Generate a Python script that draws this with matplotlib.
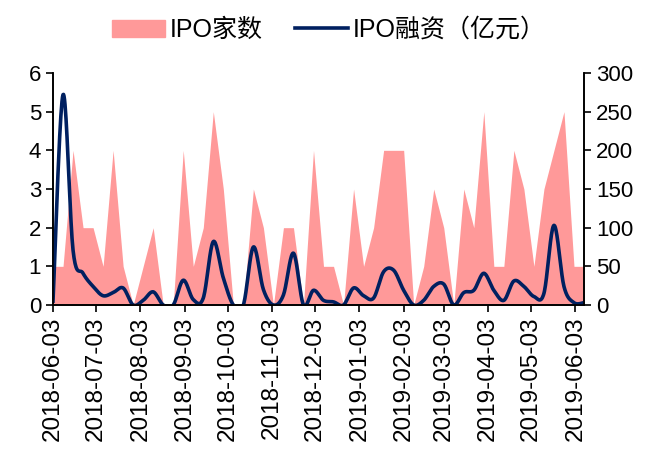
import numpy as np
import pandas as pd
import matplotlib
matplotlib.use("Agg")
import matplotlib.pyplot as plt
import matplotlib.dates as mdates
from matplotlib.patches import Patch
from matplotlib.lines import Line2D

plt.rcParams['font.family'] = ['Liberation Sans', 'Noto Sans CJK SC']

# weekly data
weeks = pd.date_range('2018-06-03', periods=54, freq='7D')
ipo_count = [1, 1, 4, 2, 2, 1, 4, 1, 0, 1, 2, 0, 0, 4, 1, 2, 5, 3,
             0, 0, 3, 2, 0, 2, 2, 0, 4, 1, 1, 0, 3, 1, 2, 4, 4, 4,
             0, 1, 3, 2, 0, 3, 2, 5, 1, 1, 4, 3, 1, 3, 4, 5, 1, 1]
ipo_money = [5, 272, 71, 41, 24, 12, 16, 22, 0, 6, 17, 0, 0, 32, 7, 9, 82, 35,
             0, 0, 75, 20, 0, 13, 67, 0, 19, 6, 4, 0, 22, 12, 9, 43, 45, 19,
             0, 6, 24, 27, 0, 16, 19, 41, 19, 6, 31, 24, 11, 15, 103, 24, 3, 3]
tick_dates = pd.date_range('2018-06-01', '2019-06-01', freq='MS') + pd.Timedelta(days=2)


def smooth(x, y, n=20):
    # catmull-rom style smoothing, like excel's smoothed line
    x = np.asarray(x, float)
    y = np.asarray(y, float)
    px = np.concatenate([[x[0]], x, [x[-1]]])
    py = np.concatenate([[y[0]], y, [y[-1]]])
    xs, ys = [], []
    t = np.linspace(0, 1, n, endpoint=False)
    for i in range(1, len(px) - 2):
        for arr, out in ((px, xs), (py, ys)):
            p0, p1, p2, p3 = arr[i - 1], arr[i], arr[i + 1], arr[i + 2]
            out.extend(0.5 * ((2 * p1) + (-p0 + p2) * t
                              + (2 * p0 - 5 * p1 + 4 * p2 - p3) * t ** 2
                              + (-p0 + 3 * p1 - 3 * p2 + p3) * t ** 3))
    xs.append(x[-1])
    ys.append(y[-1])
    return np.array(xs), np.array(ys)


fig = plt.figure(figsize=(6.51, 4.5), dpi=100)
ax = fig.add_axes([53 / 651, 1 - 305 / 450, (584 - 53) / 651, (305 - 73) / 450])
ax2 = ax.twinx()

xnum = mdates.date2num(weeks)
ax.fill_between(xnum, 0, ipo_count, color='#FF9999', lw=0)
sx, sy = smooth(xnum, ipo_money)
ax2.plot(sx, sy, color='#002060', lw=2.6)

ax.set_xlim(xnum[0], xnum[-1])
ax.set_ylim(0, 6)
ax2.set_ylim(0, 300)
ax.set_yticks(range(0, 7))
ax2.set_yticks(range(0, 301, 50))
ax.set_xticks(mdates.date2num(tick_dates))
ax.set_xticklabels([d.strftime('%Y-%m-%d') for d in tick_dates], rotation=90)

for a in (ax, ax2):
    a.spines['top'].set_visible(False)
    for s in ('left', 'right', 'bottom'):
        a.spines[s].set_linewidth(1.2)
    a.tick_params(labelsize=16, width=1.2, length=5, direction='out')
ax.tick_params(axis='x', labelsize=17.5)

handles = [Patch(color='#FF9999'), Line2D([], [], color='#002060', lw=2.6)]
fig.legend(handles, ['IPO家数', 'IPO融资（亿元）'], loc='upper center',
           bbox_to_anchor=(0.505, 1.01), ncol=2, frameon=False, fontsize=18,
           handlelength=2.1, columnspacing=1.3, handletextpad=0.2)

fig.savefig('out.png', dpi=100)
